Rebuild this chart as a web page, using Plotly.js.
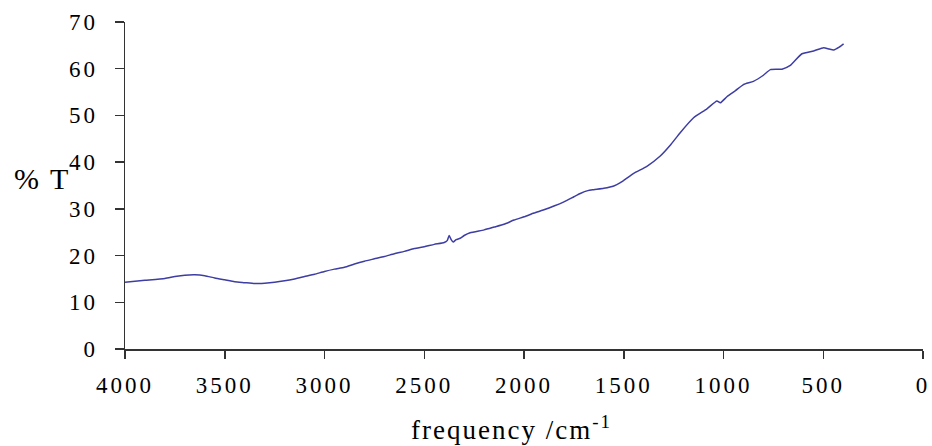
<!DOCTYPE html>
<html>
<head>
<meta charset="utf-8">
<script src="https://cdn.plot.ly/plotly-3.0.1.min.js"></script>
<style>
  html, body { margin: 0; padding: 0; background: #fff; }
  #chart { width: 932px; height: 446px; }
  .xtick text, .ytick text { letter-spacing: 3px; }
  .annotation-text { letter-spacing: 2px; }
</style>
</head>
<body>
<div id="chart"></div>
<script>
// wavenumber (cm^-1)
const wavenumber = [4000, 3900, 3800, 3750, 3700, 3650, 3600, 3550, 3500, 3450, 3400, 3350, 3300, 3250, 3200, 3150, 3100, 3050, 3000, 2950, 2900, 2850, 2800, 2750, 2700, 2650, 2600, 2550, 2500, 2450, 2400, 2385, 2375, 2365, 2355, 2340, 2320, 2300, 2270, 2200, 2150, 2100, 2050, 2000, 1950, 1900, 1850, 1800, 1750, 1718, 1680, 1650, 1600, 1550, 1517, 1450, 1384, 1317, 1267, 1217, 1150, 1083, 1033, 1016, 983, 940, 900, 850, 800, 765, 707, 665, 607, 548, 498, 470, 448, 420, 398];
// transmittance (%)
const transmittance = [14.3, 14.7, 15.1, 15.5, 15.8, 15.9, 15.7, 15.2, 14.8, 14.4, 14.2, 14.0, 14.1, 14.3, 14.6, 15.0, 15.5, 16.0, 16.6, 17.1, 17.5, 18.2, 18.8, 19.3, 19.8, 20.4, 20.9, 21.5, 21.9, 22.4, 22.8, 23.2, 24.3, 23.4, 22.9, 23.4, 23.7, 24.3, 24.9, 25.5, 26.1, 26.7, 27.6, 28.3, 29.1, 29.8, 30.6, 31.5, 32.6, 33.3, 33.9, 34.1, 34.4, 34.9, 35.6, 37.6, 39.1, 41.3, 43.6, 46.3, 49.5, 51.4, 53.1, 52.7, 54.0, 55.3, 56.6, 57.3, 58.6, 59.8, 59.9, 60.7, 63.2, 63.8, 64.5, 64.2, 64.0, 64.6, 65.3];

const xTickVals = [4000, 3500, 3000, 2500, 2000, 1500, 1000, 500, 0];
const yTickVals = [0, 10, 20, 30, 40, 50, 60, 70];

const serif = 'Liberation Serif, "Times New Roman", serif';

const trace = {
  x: wavenumber,
  y: transmittance,
  type: 'scatter',
  mode: 'lines',
  line: { color: '#3d3da3', width: 1.5, shape: 'spline', smoothing: 0.5 },
  hoverinfo: 'skip'
};

const layout = {
  width: 932,
  height: 446,
  margin: { l: 125, r: 9, t: 22, b: 97 },
  paper_bgcolor: '#fff',
  plot_bgcolor: '#fff',
  showlegend: false,
  font: { family: serif, color: '#000', size: 23 },
  xaxis: {
    range: [4000, 0],
    tickvals: xTickVals,
    ticktext: xTickVals.map(String),
    ticks: 'outside',
    ticklen: 8,
    tickwidth: 1.5,
    tickcolor: '#333',
    showline: true,
    linecolor: '#333',
    linewidth: 1.5,
    showgrid: false,
    zeroline: false,
    ticklabelstandoff: 7,
    tickfont: { family: serif, size: 23, color: '#000' }
  },
  yaxis: {
    range: [0, 70],
    tickvals: yTickVals,
    ticktext: yTickVals.map(String),
    ticks: 'outside',
    ticklen: 9,
    tickwidth: 1.5,
    tickcolor: '#333',
    showline: true,
    linecolor: '#333',
    linewidth: 1.5,
    showgrid: false,
    zeroline: false,
    ticklabelstandoff: 12,
    tickfont: { family: serif, size: 23, color: '#000' }
  },
  annotations: [
    {
      text: '% T',
      xref: 'paper', yref: 'paper',
      x: -0.1034, y: 0.52,
      xanchor: 'center', yanchor: 'middle',
      showarrow: false,
      font: { family: serif, size: 30, color: '#000' }
    },
    {
      text: 'frequency /cm<sup>-1</sup>',
      xref: 'paper', yref: 'paper',
      x: 0.4843, y: -0.243,
      xanchor: 'center', yanchor: 'middle',
      showarrow: false,
      font: { family: serif, size: 27, color: '#000' }
    }
  ]
};

Plotly.newPlot('chart', [trace], layout, { staticPlot: true, displayModeBar: false });
</script>
</body>
</html>
